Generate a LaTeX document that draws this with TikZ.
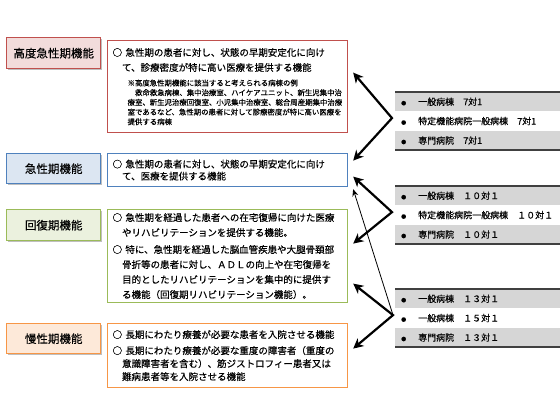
\documentclass[tikz,border=0pt]{standalone}
\usepackage{fontspec}
\setmainfont{Noto Sans CJK JP}[FakeBold=0.35]
\usetikzlibrary{arrows.meta,positioning,calc,shadows}
\setlength{\parindent}{0pt}
\definecolor{hiRed}{HTML}{C0504D}
\definecolor{hiRedFill}{HTML}{F2DCDB}
\definecolor{acBlue}{HTML}{4F81BD}
\definecolor{acBlueFill}{HTML}{DCE6F2}
\definecolor{rcGreen}{HTML}{9BBB59}
\definecolor{rcGreenFill}{HTML}{EBF1DE}
\definecolor{chOrange}{HTML}{F79646}
\definecolor{chOrangeFill}{HTML}{FDE9D9}
\definecolor{rowGray}{HTML}{D6D6D6}
\definecolor{ruleGray}{HTML}{404040}
\tikzset{
  lblbox/.style 2 args={draw=#1, fill=#2, line width=1.4pt, minimum width=94pt,
    minimum height=31pt, anchor=north west, inner sep=0pt,
    drop shadow={shadow xshift=1.2pt, shadow yshift=-1.2pt, fill=black, opacity=0.25},
    font=\fontsize{11.5}{13}\selectfont},
  descbox/.style={draw=#1, line width=1.2pt, fill=white, anchor=north west,
    text width=230pt, inner xsep=5pt, inner ysep=3pt, align=left},
  rowbox/.style={anchor=north west, minimum width=165pt, minimum height=19pt,
    inner xsep=6pt, inner ysep=0pt, text width=153pt, align=left, fill=#1,
    font=\fontsize{9}{10}\selectfont},
  tablerule/.style={draw=ruleGray, line width=1.8pt},
  dblarrow/.style={{Stealth[length=10pt,width=10pt,inset=3pt]}-{Stealth[length=10pt,width=10pt,inset=3pt]},
    line width=2.2pt, line join=miter},
  thinarrow/.style={-{Stealth[length=7pt,width=6pt]}, line width=0.8pt},
}
\newcommand{\bul}{\makebox[17pt][l]{\fontsize{5}{5}\selectfont ●}}
\begin{document}
\begin{tikzpicture}[x=1pt,y=-1pt]
  \useasboundingbox (0,0) rectangle (560,420);
  % function labels
  \node[lblbox={hiRed}{hiRedFill}] (lhi) at (6,37) {高度急性期機能};
  \node[lblbox={acBlue}{acBlueFill}, minimum height=30pt] (lac) at (6,153) {急性期機能};
  \node[lblbox={rcGreen}{rcGreenFill}] (lrc) at (6,209) {回復期機能};
  \node[lblbox={chOrange}{chOrangeFill}, minimum height=30pt] (lch) at (6,323) {慢性期機能};
  % descriptions
  \node[descbox=hiRed, minimum height=92pt] (dhi) at (107,40) {%
    {\fontsize{9.5}{15}\selectfont ○ 急性期の患者に対し、状態の早期安定化に向け\\
    \hspace*{1em}て、診療密度が特に高い医療を提供する機能\par}
    \vspace{5pt}
    {\fontsize{7.4}{9.7}\selectfont\leftskip=15pt
    ※高度急性期機能に該当すると考えられる病棟の例\\
    \hspace*{1em}救命救急病棟、集中治療室、ハイケアユニット、新生児集中治\\
    療室、新生児治療回復室、小児集中治療室、総合周産期集中治療\\
    室であるなど、急性期の患者に対して診療密度が特に高い医療を\\
    提供する病棟\par}};
  \node[descbox=acBlue, minimum height=33pt] (dac) at (107,153) {%
    {\fontsize{9.5}{12}\selectfont ○ 急性期の患者に対し、状態の早期安定化に向け\\
    \hspace*{1em}て、医療を提供する機能\par}};
  \node[descbox=rcGreen, minimum height=93pt] (drc) at (107,209) {%
    {\fontsize{9.5}{15}\selectfont ○ 急性期を経過した患者への在宅復帰に向けた医療\\
    \hspace*{1em}やリハビリテーションを提供する機能。\par
    \vspace{2pt}
    ○ 特に、急性期を経過した脳血管疾患や大腿骨頚部\\
    \hspace*{1em}骨折等の患者に対し、ＡＤＬの向上や在宅復帰を\\
    \hspace*{1em}目的としたリハビリテーションを集中的に提供す\\
    \hspace*{1em}る機能（回復期リハビリテーション機能）。\par}};
  \node[descbox=chOrange, minimum height=64pt] (dch) at (107,323) {%
    {\fontsize{9.5}{13}\selectfont ○ 長期にわたり療養が必要な患者を入院させる機能\par
    \vspace{3pt}
    ○ 長期にわたり療養が必要な重度の障害者（重度の\\
    \hspace*{1em}意識障害者を含む）、筋ジストロフィー患者又は\\
    \hspace*{1em}難病患者等を入院させる機能\par}};
  % ward tables
  \node[rowbox=rowGray] (t1a) at (395,92) {\bul 一般病棟　7対1};
  \node[rowbox=white, below=0pt of t1a] (t1b) {\bul 特定機能病院一般病棟　7対1};
  \node[rowbox=rowGray, below=0pt of t1b] (t1c) {\bul 専門病院　7対1};
  \node[rowbox=rowGray] (t2a) at (395,186) {\bul 一般病棟　１０対１};
  \node[rowbox=white, below=0pt of t2a] (t2b) {\bul 特定機能病院一般病棟　１０対１};
  \node[rowbox=rowGray, below=0pt of t2b] (t2c) {\bul 専門病院　１０対１};
  \node[rowbox=rowGray] (t3a) at (395,289) {\bul 一般病棟　１３対１};
  \node[rowbox=white, below=0pt of t3a] (t3b) {\bul 一般病棟　１５対１};
  \node[rowbox=rowGray, below=0pt of t3b] (t3c) {\bul 専門病院　１３対１};
  \foreach \t in {t1,t2,t3} {
    \draw[tablerule] (\t a.north west) -- (\t a.north east);
    \draw[tablerule] (\t c.south west) -- (\t c.south east);
  }
  % arrows
  \coordinate (apex1) at ($(t1b.west)+(-3,-3)$);
  \coordinate (apex2) at ($(t2b.west)+(-3,-3)$);
  \coordinate (apex3) at ($(t3b.west)+(-2,-3)$);
  \draw[dblarrow] ($(dhi.east)+(5,-14)$) -- (apex1) -- ($(dac.east)+(5,-9.5)$);
  \draw[dblarrow] ($(dac.east)+(5,6.5)$) -- (apex2) -- ($(drc.east)+(5,-12.5)$);
  \draw[dblarrow] ($(drc.east)+(5,27.5)$) -- (apex3) -- ($(dch.east)+(5,-7)$);
  \draw[thinarrow] (apex3) -- ($(dac.south east)+(5,2)$);
\end{tikzpicture}
\end{document}
